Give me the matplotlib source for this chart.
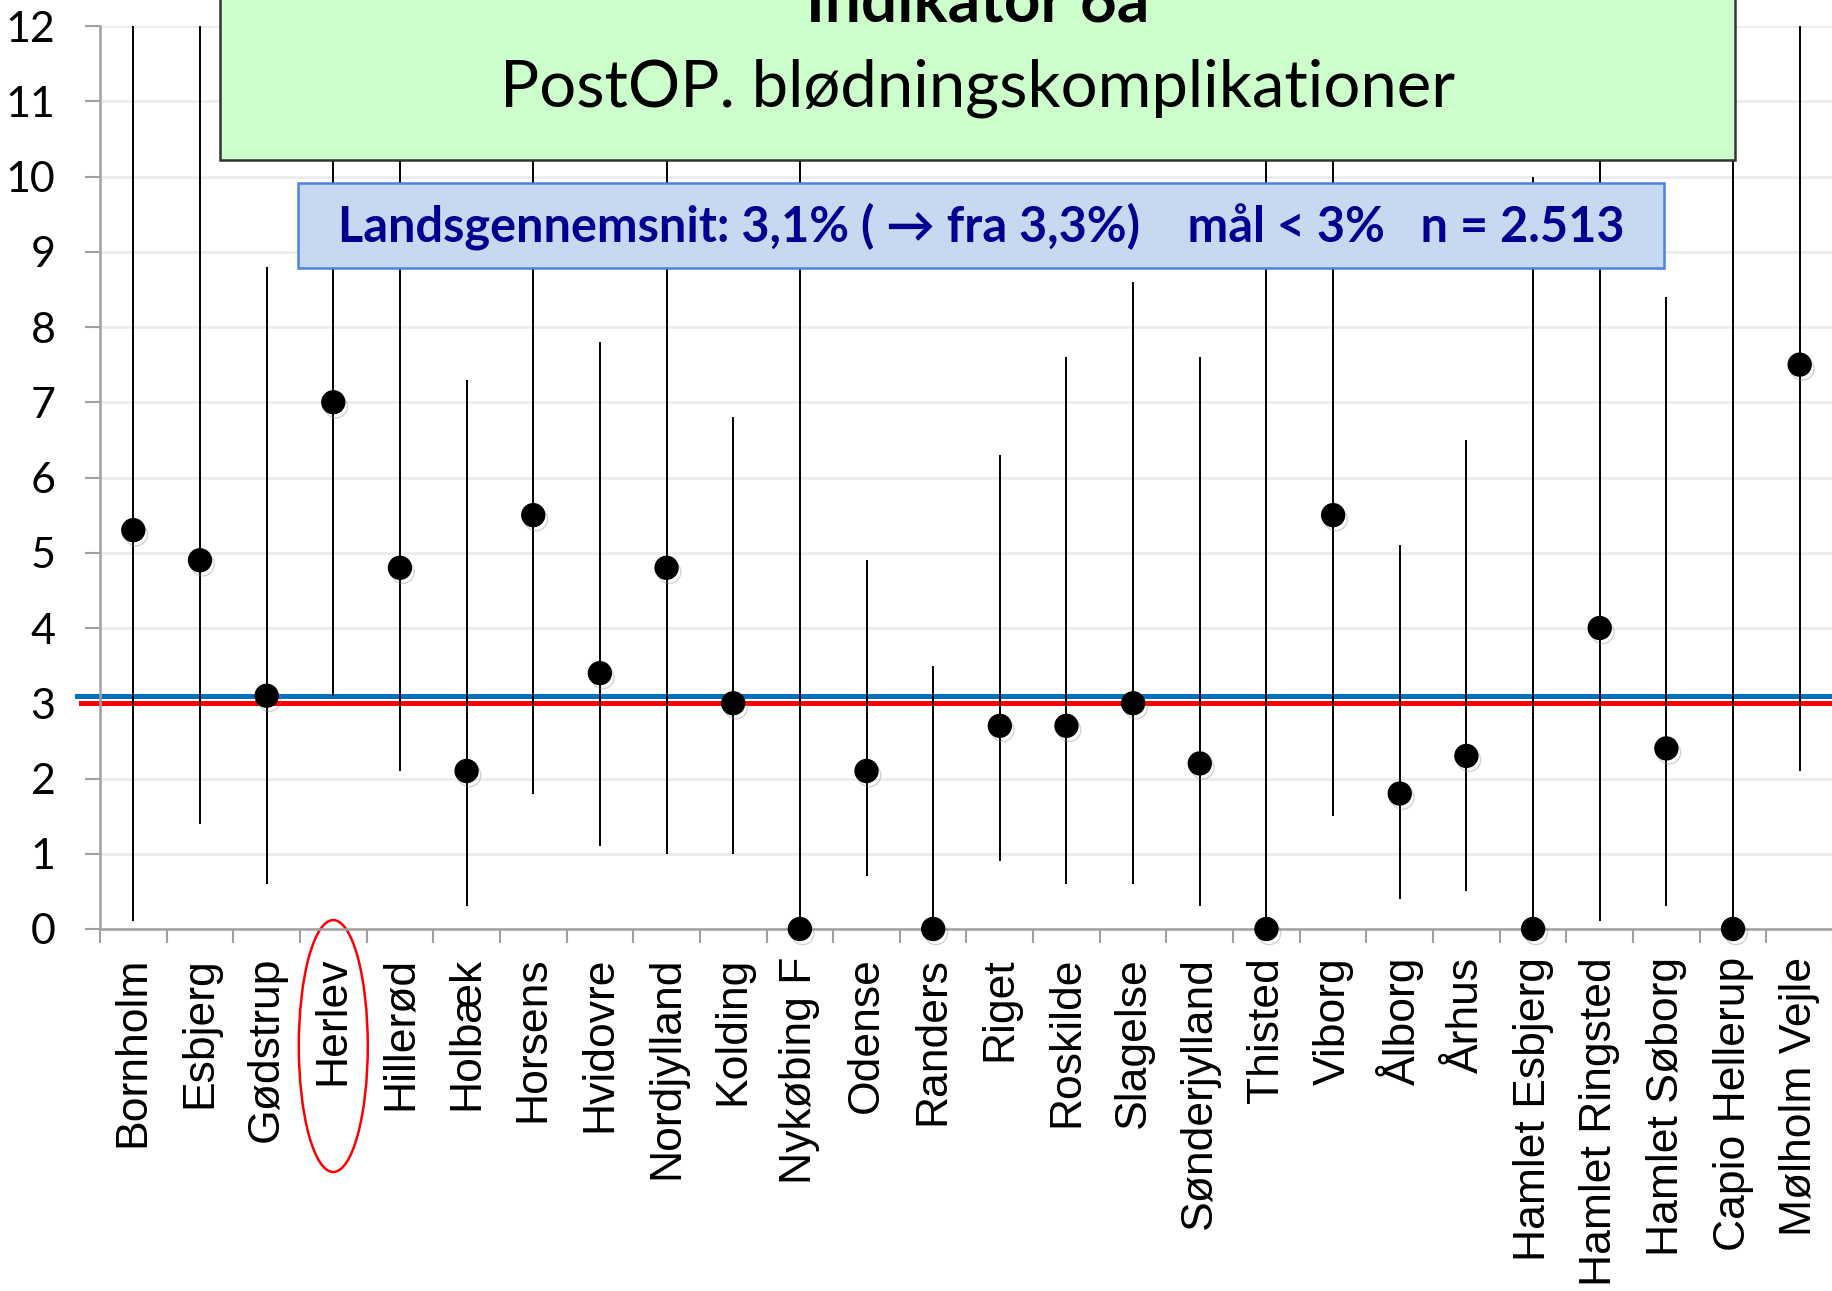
import matplotlib
matplotlib.use("Agg")
import matplotlib.pyplot as plt
import matplotlib.patheffects as pe
from matplotlib.patches import Rectangle, Ellipse
from matplotlib.transforms import blended_transform_factory
import numpy as np

# afdelinger og postoperative blødningskomplikationer (%), med 95% CI
hospitals = ["Bornholm", "Esbjerg", "Gødstrup", "Herlev", "Hillerød", "Holbæk",
             "Horsens", "Hvidovre", "Nordjylland", "Kolding", "Nykøbing F",
             "Odense", "Randers", "Riget", "Roskilde", "Slagelse",
             "Sønderjylland", "Thisted", "Viborg", "Ålborg", "Århus",
             "Hamlet Esbjerg", "Hamlet Ringsted", "Hamlet Søborg",
             "Capio Hellerup", "Mølholm Vejle"]
rate = [5.3, 4.9, 3.1, 7.0, 4.8, 2.1, 5.5, 3.4, 4.8, 3.0, 0.0, 2.1, 0.0,
        2.7, 2.7, 3.0, 2.2, 0.0, 5.5, 1.8, 2.3, 0.0, 4.0, 2.4, 0.0, 7.5]
ci_low = [0.1, 1.4, 0.6, 3.1, 2.1, 0.3, 1.8, 1.1, 1.0, 1.0, 0.0, 0.7, 0.0,
          0.9, 0.6, 0.6, 0.3, 0.0, 1.5, 0.4, 0.5, 0.0, 0.1, 0.3, 0.0, 2.1]
ci_high = [22.0, 13.4, 8.8, 13.5, 10.6, 7.3, 13.9, 7.8, 10.9, 6.8, 12.5, 4.9,
           3.5, 6.3, 7.6, 8.6, 7.6, 14.0, 16.0, 5.1, 6.5, 10.0, 14.5, 8.4,
           20.0, 21.0]
national_avg = 3.1
target = 3.0
yticks = list(range(0, 13))

W, H = 1833, 1291
fig = plt.figure(figsize=(W / 100, H / 100), dpi=100)
ax = fig.add_axes([100 / W, 362 / H, 1733 / W, 903 / H])

x = np.arange(len(hospitals))
ax.vlines(x, ci_low, ci_high, color="black", lw=1.4, zorder=3)
ax.plot(x, rate, "o", color="black", ms=16.5, zorder=4, clip_on=False,
        path_effects=[pe.SimpleLineShadow(offset=(2, -3), shadow_color="gray", alpha=0.35),
                      pe.Normal()])

ax.set_xlim(-0.5, len(hospitals) - 0.5)
ax.set_ylim(0, 12)
ax.set_yticks(yticks)
ax.set_yticklabels([str(v) for v in yticks], fontfamily="Lato", fontsize=31)
ax.set_xticks(x)
ax.set_xticklabels(hospitals, rotation=90, fontfamily="Liberation Sans", fontsize=32)
ax.set_xticks(np.arange(len(hospitals) + 1) - 0.5, minor=True)
ax.tick_params(axis="x", which="major", length=0, pad=20)
ax.tick_params(axis="x", which="minor", length=10, width=1.5, color="#a0a0a0")
ax.tick_params(axis="y", length=11, width=1.5, color="#a0a0a0", pad=21)
ax.grid(axis="y", color="#ececec", lw=2)
ax.set_axisbelow(True)
for s in ["top", "right"]:
    ax.spines[s].set_visible(False)
for s in ["left", "bottom"]:
    ax.spines[s].set_color("#a0a0a0")
    ax.spines[s].set_linewidth(1.8)

# landsgennemsnit og mål
yt = ax.get_yaxis_transform()
ax.plot([-0.013, 1], [national_avg] * 2, color="#0070c0", lw=3.6, transform=yt,
        clip_on=False, zorder=2)
ax.plot([-0.011, 1], [target] * 2, color="#ff0000", lw=3.6, transform=yt,
        clip_on=False, zorder=2)

# rød ring om Herlev
bt = blended_transform_factory(ax.transData, ax.transAxes)
ax.add_patch(Ellipse((hospitals.index("Herlev"), -0.1296), 1.035, 0.279,
                     transform=bt, fill=False, ec="red", lw=1.8, clip_on=False))

# grøn titelboks
fig.add_artist(Rectangle((220 / W, 1 - 160 / H), 1515 / W, 0.2,
                         transform=fig.transFigure, fc="#ccffcc", ec="#333333", lw=1.8))
fig.text(978 / W, 1 - 22 / H, "Indikator 6a", transform=fig.transFigure,
         ha="center", va="baseline", fontfamily="Lato", fontweight="bold", fontsize=46)
fig.text(978 / W, 1 - 88 / H, "PostOP. blødningskomplikationer", transform=fig.transFigure,
         ha="center", va="center", fontfamily="Lato", fontsize=47)

# blå infoboks
fig.add_artist(Rectangle((298 / W, 1 - 268 / H), 1366 / W, 85 / H,
                         transform=fig.transFigure, fc="#c6d9f1", ec="#4f81e0", lw=1.8))
fig.text(981 / W, 1 - 226 / H,
         "Landsgennemsnit: 3,1% ( \u2192 fra 3,3%)    mål < 3%   n = 2.513",
         transform=fig.transFigure, ha="center", va="center",
         fontfamily=["Lato", "DejaVu Sans"], fontweight="bold", fontsize=35, color="#000090")

fig.savefig("out.png", dpi=100)
